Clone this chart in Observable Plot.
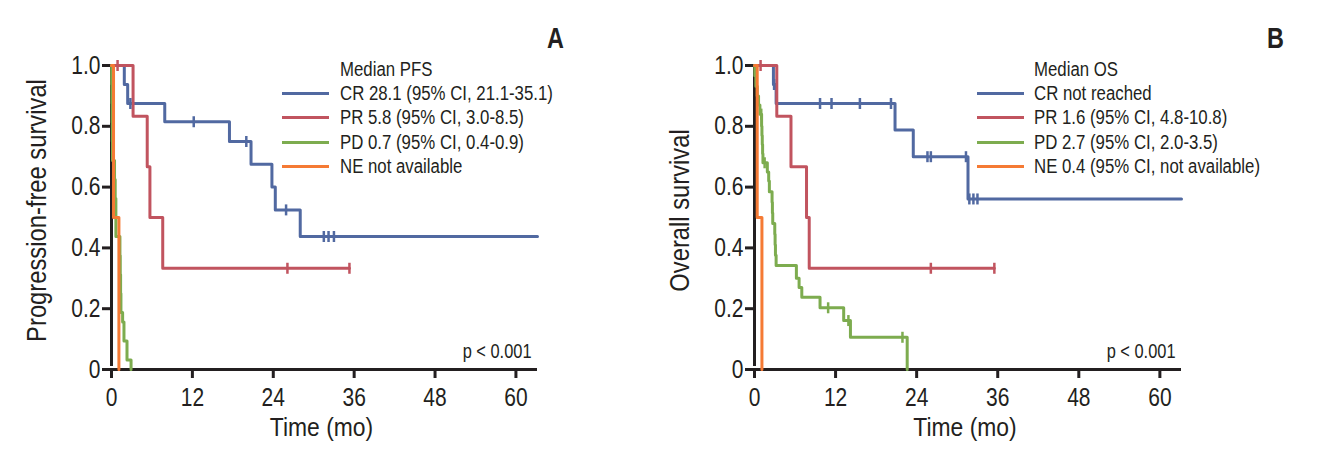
<!DOCTYPE html>
<html><head><meta charset="utf-8">
<script src="https://cdn.jsdelivr.net/npm/d3@7"></script>
<script src="https://cdn.jsdelivr.net/npm/@observablehq/plot@0.6"></script>
<style>
body{margin:0;background:#fff;}
#root{position:relative;width:1319px;height:464px;overflow:hidden;font-family:"Liberation Sans",Arial,sans-serif;color:#231f20;}
.panel{position:absolute;top:0;}
.legend{position:absolute;font-size:20px;}
.legend .row{display:flex;align-items:center;height:24.4px;white-space:nowrap;}
.legend .sw{width:47px;height:3px;flex:none;}
.legend span{display:inline-block;transform:scaleX(0.84);transform-origin:0 50%;}
.plab{position:absolute;font-weight:bold;font-size:30px;line-height:30px;transform:scaleX(0.78);transform-origin:0 0;}
</style></head>
<body><div id="root"></div>
<script>
// ---- data ----
const months = [0, 12, 24, 36, 48, 60];
const survTicks = [0, 0.2, 0.4, 0.6, 0.8, 1.0];
const survTickLabels = ["0", "0.2", "0.4", "0.6", "0.8", "1.0"];
const groups = ["CR", "PR", "PD", "NE"];
const groupColors = ["#5169a1", "#c1545f", "#7dac4f", "#f57a34"];

// Panel A: progression-free survival  [time (mo), survival]
const pfsCR = [[0,1],[1.9,0.9375],[2.4,0.875],[7.9,0.815],[17.5,0.75],[20.7,0.675],[23.8,0.60],[24.3,0.525],[28.0,0.4375]];
const pfsCRcens = [2.8, 12.2, 20.0, 25.9, 31.5, 32.2, 33.0];
const pfsCRend = 63.2;
const pfsPR = [[0,1],[3.2,0.833],[5.3,0.667],[5.7,0.5],[7.6,0.333]];
const pfsPRcens = [0.9, 26.1, 35.3];
const pfsPRend = 35.3;
const pfsPD = [[0,1],[0.03,0.9375],[0.06,0.875],[0.09,0.8125],[0.12,0.75],[0.15,0.6875],[0.45,0.625],[0.55,0.5625],[0.65,0.4375],[1.25,0.375],[1.3,0.3125],[1.35,0.25],[1.4,0.1875],[1.65,0.156],[1.85,0.094],[2.3,0.031],[2.9,0]];
const pfsPDcens = [];
const pfsPDend = 2.9;
const pfsNE = [[0,1],[0.3,0.5],[1.1,0]];
const pfsNEcens = [];
const pfsNEend = 1.1;

// Panel B: overall survival
const osCR = [[0,1],[2.8,0.9375],[3.2,0.875],[20.8,0.788],[23.5,0.70],[31.6,0.561]];
const osCRcens = [2.9, 9.7, 11.4, 15.6, 20.2, 25.6, 26.1, 31.3, 31.8, 32.4, 33.0];
const osCRend = 63.2;
const osPR = [[0,1],[3.3,0.833],[5.4,0.667],[7.7,0.5],[8.1,0.333]];
const osPRcens = [0.9, 26.1, 35.5];
const osPRend = 35.5;
const osPD = [[0,1],[0.05,0.966],[0.2,0.932],[0.4,0.90],[0.6,0.87],[0.8,0.84],[1.05,0.80],[1.1,0.77],[1.15,0.74],[1.2,0.71],[1.25,0.68],[1.9,0.65],[2.1,0.62],[2.2,0.585],[2.6,0.55],[2.65,0.515],[2.7,0.48],[3.0,0.445],[3.05,0.41],[3.1,0.376],[3.2,0.342],[6.2,0.30],[6.6,0.27],[7.0,0.238],[9.7,0.203],[13.2,0.161],[14.2,0.106],[22.6,0]];
const osPDcens = [1.0, 1.5, 10.9, 13.9, 21.9];
const osPDend = 22.6;
const osNE = [[0,1],[0.4,0.5],[1.1,0]];
const osNEcens = [];
const osNEend = 1.1;

const pfsLegend = ["Median PFS", "CR 28.1 (95% CI, 21.1-35.1)", "PR 5.8 (95% CI, 3.0-8.5)", "PD 0.7 (95% CI, 0.4-0.9)", "NE not available"];
const osLegend = ["Median OS", "CR not reached", "PR 1.6 (95% CI, 4.8-10.8)", "PD 2.7 (95% CI, 2.0-3.5)", "NE 0.4 (95% CI, not available)"];
const xTitle = "Time (mo)";
const pText = "p < 0.001";

// ---- build ----
const ink = "#231f20";
const root = document.getElementById("root");
const vbar = {draw(ctx, size) { const r = Math.sqrt(size / Math.PI); ctx.moveTo(0, -r); ctx.lineTo(0, r); }};

function survAt(steps, t) {
  let s = 1;
  for (const [tt, ss] of steps) if (tt <= t) s = ss;
  return s;
}

function panel(cfg) {
  const lineData = [], cens = [];
  cfg.series.forEach(([g, steps, cs, end]) => {
    steps.forEach(([t, s]) => lineData.push({group: g, t, s}));
    const last = steps[steps.length - 1];
    if (end > last[0]) lineData.push({group: g, t: end, s: last[1]});
    cs.forEach(t => cens.push({group: g, t, s: survAt(steps, t)}));
  });
  const plot = Plot.plot({
    width: cfg.width, height: 464,
    marginLeft: 111, marginRight: cfg.marginRight, marginTop: 65, marginBottom: 95,
    style: {fontFamily: '"Liberation Sans",Arial,sans-serif', color: ink, background: "transparent", overflow: "visible"},
    x: {domain: [0, 63.2]},
    y: {domain: [0, 1]},
    color: {domain: groups, range: groupColors},
    marks: [
      Plot.ruleY([0], {stroke: ink, strokeWidth: 3}),
      Plot.ruleX([0], {stroke: ink, strokeWidth: 3, y1: 0, y2: 1, insetTop: -3}),
      Plot.axisX({ticks: months, tickSize: 9, tickPadding: 10, stroke: ink, strokeWidth: 3, fontSize: 25, label: null, className: "tk"}),
      Plot.axisY({ticks: survTicks, tickFormat: d => survTickLabels[survTicks.indexOf(d)], tickSize: 9, tickPadding: 2, stroke: ink, strokeWidth: 3, fontSize: 25, label: null, className: "tk"}),
      Plot.line(lineData, {x: "t", y: "s", z: "group", stroke: "group", curve: "step-after", strokeWidth: 3}),
      Plot.dot(cens, {x: "t", y: "s", stroke: "group", symbol: vbar, r: 5.5, strokeWidth: 2.5, fill: "none"}),
      Plot.text([xTitle], {frameAnchor: "bottom", dy: 58, dx: -3, fontSize: 26, lineAnchor: "middle", textAnchor: "middle", fill: ink, className: "ttl"}),
      Plot.text([cfg.yTitle], {frameAnchor: "left", dx: -74, dy: -7, rotate: -90, fontSize: 27, lineAnchor: "middle", textAnchor: "middle", fill: ink, className: "ttl"}),
      Plot.text([pText], {frameAnchor: "bottom-right", dx: -6, dy: -12, lineAnchor: "bottom", textAnchor: "end", fontSize: 20, fill: ink})
    ]
  });
  plot.classList.add("panel");
  plot.style.left = cfg.left + "px";
  root.appendChild(plot);
  // condense svg texts horizontally (narrow face substitute)
  plot.querySelectorAll("text").forEach(t => {
    const L = t.getComputedTextLength();
    const k = t.closest(".ttl") ? 0.88 : t.closest(".tk") ? 0.84 : 0.82;
    if (L > 0) { t.setAttribute("textLength", (L * k).toFixed(2)); t.setAttribute("lengthAdjust", "spacingAndGlyphs"); }
  });

  const lg = document.createElement("div");
  lg.className = "legend";
  lg.style.left = cfg.legendLeft + "px";
  lg.style.top = "57px";
  cfg.legend.forEach((txt, i) => {
    const row = document.createElement("div");
    row.className = "row";
    const sw = document.createElement("div");
    sw.className = "sw";
    sw.style.background = i === 0 ? "transparent" : groupColors[i - 1];
    sw.style.marginRight = cfg.swGap + "px";
    row.appendChild(sw);
    const sp = document.createElement("span");
    sp.textContent = txt;
    row.appendChild(sp);
    lg.appendChild(row);
  });
  root.appendChild(lg);

  const lab = document.createElement("div");
  lab.className = "plab";
  lab.textContent = cfg.label;
  lab.style.left = cfg.labelLeft + "px";
  lab.style.top = "23px";
  root.appendChild(lab);
}

panel({
  left: 0, width: 644, marginRight: 107, yTitle: "Progression-free survival",
  series: [["CR", pfsCR, pfsCRcens, pfsCRend], ["PR", pfsPR, pfsPRcens, pfsPRend], ["PD", pfsPD, pfsPDcens, pfsPDend], ["NE", pfsNE, pfsNEcens, pfsNEend]],
  legend: pfsLegend, legendLeft: 282, swGap: 11, label: "A", labelLeft: 547
});
panel({
  left: 643, width: 676, marginRight: 138, yTitle: "Overall survival",
  series: [["CR", osCR, osCRcens, osCRend], ["PR", osPR, osPRcens, osPRend], ["PD", osPD, osPDcens, osPDend], ["NE", osNE, osNEcens, osNEend]],
  legend: osLegend, legendLeft: 977, swGap: 10, label: "B", labelLeft: 1267
});
</script>
</body></html>
